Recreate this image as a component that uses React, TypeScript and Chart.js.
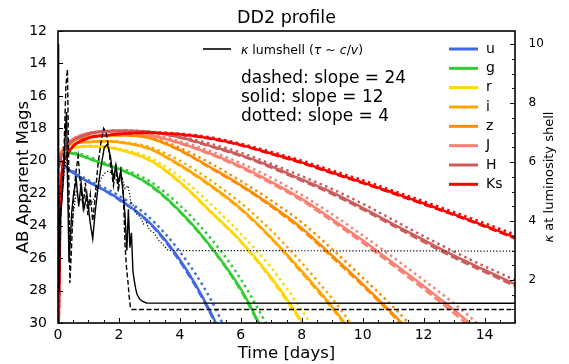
import React, { useEffect, useRef } from 'react';
import { Chart, registerables } from 'chart.js';

Chart.register(...registerables);

// ---------- data ----------
const T = [0.02, 0.1, 0.25, 0.5, 1, 1.5, 2, 3, 4, 5, 6, 7, 8, 9, 10, 11, 12, 13, 14, 15];

const U_SOLID = [19.9, 20.0, 20.35, 20.75, 21.3, 21.8, 22.35, 23.8, 26.1, 29.3, 33.5, null, null, null, null, null, null, null, null, null];
const U_DASHED = [19.9, 20.0, 20.35, 20.75, 21.3, 21.8, 22.4, 23.85, 26.2, 29.4, 33.6, null, null, null, null, null, null, null, null, null];
const U_DOTTED = [19.9, 20.0, 20.3, 20.65, 21.2, 21.65, 22.15, 23.5, 25.6, 28.5, 32.5, null, null, null, null, null, null, null, null, null];

const G_SOLID = [19.8, 19.6, 19.5, 19.55, 19.85, 20.2, 20.5, 21.45, 23.1, 25.25, 27.9, 31.5, null, null, null, null, null, null, null, null];
const G_DASHED = [19.8, 19.6, 19.5, 19.55, 19.85, 20.2, 20.5, 21.5, 23.15, 25.3, 28.0, 31.6, null, null, null, null, null, null, null, null];
const G_DOTTED = [19.8, 19.6, 19.5, 19.5, 19.75, 20.1, 20.4, 21.25, 22.75, 24.75, 27.3, 30.6, null, null, null, null, null, null, null, null];

const R_SOLID = [19.9, 19.6, 19.35, 19.2, 19.1, 19.15, 19.3, 19.95, 21.3, 23.1, 24.95, 27.2, 29.9, 33.0, null, null, null, null, null, null];
const R_DASHED = [19.9, 19.6, 19.35, 19.2, 19.1, 19.15, 19.3, 19.97, 21.35, 23.15, 25.0, 27.3, 30.0, 33.1, null, null, null, null, null, null];
const R_DOTTED = [19.9, 19.6, 19.35, 19.2, 19.08, 19.1, 19.25, 19.8, 21.0, 22.65, 24.5, 26.6, 29.2, 32.2, null, null, null, null, null, null];

const I_SOLID = [19.9, 19.5, 19.15, 18.95, 18.85, 18.8, 18.85, 19.25, 20.25, 21.5, 22.95, 24.75, 26.8, 29.0, 31.5, null, null, null, null, null];
const I_DASHED = [19.9, 19.5, 19.15, 18.95, 18.85, 18.8, 18.85, 19.27, 20.3, 21.55, 23.0, 24.8, 26.9, 29.1, 31.6, null, null, null, null, null];
const I_DOTTED = [19.9, 19.5, 19.15, 18.95, 18.83, 18.78, 18.82, 19.15, 20.0, 21.2, 22.6, 24.3, 26.3, 28.5, 31.0, null, null, null, null, null];

const Z_SOLID = [20.0, 19.5, 19.05, 18.75, 18.52, 18.45, 18.42, 18.6, 19.35, 20.4, 21.5, 22.75, 24.15, 25.85, 27.6, 29.45, 31.4, null, null, null];
const Z_DASHED = [20.0, 19.5, 19.05, 18.75, 18.52, 18.45, 18.42, 18.6, 19.37, 20.45, 21.55, 22.82, 24.25, 25.95, 27.7, 29.55, 31.5, null, null, null];
const Z_DOTTED = [20.0, 19.5, 19.05, 18.75, 18.5, 18.43, 18.4, 18.55, 19.2, 20.15, 21.25, 22.45, 23.8, 25.45, 27.2, 29.0, 31.0, null, null, null];

const J_SOLID = [20.1, 19.6, 19.05, 18.65, 18.3, 18.2, 18.2, 18.42, 18.9, 19.55, 20.35, 21.3, 22.35, 23.6, 24.9, 26.3, 27.72, 29.2, 30.8, null];
const J_DASHED = [20.1, 19.6, 19.05, 18.65, 18.3, 18.2, 18.2, 18.43, 18.93, 19.6, 20.42, 21.4, 22.45, 23.72, 25.05, 26.45, 27.9, 29.4, 31.0, null];
const J_DOTTED = [20.1, 19.6, 19.05, 18.65, 18.28, 18.18, 18.17, 18.35, 18.8, 19.4, 20.15, 21.05, 22.1, 23.3, 24.6, 25.95, 27.35, 28.8, 30.4, null];

const H_SOLID = [20.4, 19.8, 19.2, 18.75, 18.35, 18.2, 18.15, 18.22, 18.55, 19.08, 19.65, 20.35, 21.15, 21.95, 22.9, 23.9, 24.88, 25.85, 26.73, 27.6];
const H_DASHED = [20.4, 19.8, 19.2, 18.75, 18.35, 18.2, 18.15, 18.23, 18.57, 19.12, 19.7, 20.42, 21.23, 22.05, 23.0, 24.0, 25.0, 25.97, 26.85, 27.72];
const H_DOTTED = [20.4, 19.8, 19.2, 18.75, 18.33, 18.18, 18.13, 18.2, 18.5, 18.95, 19.5, 20.2, 20.95, 21.75, 22.65, 23.65, 24.65, 25.6, 26.5, 27.35];

const KS_SOLID = [30.5, 21.4, 19.8, 19.1, 18.6, 18.45, 18.35, 18.27, 18.37, 18.62, 19.02, 19.55, 20.1, 20.72, 21.33, 21.97, 22.63, 23.3, 24.0, 24.72];
const KS_DASHED = [30.5, 21.4, 19.8, 19.1, 18.6, 18.45, 18.35, 18.27, 18.38, 18.64, 19.05, 19.58, 20.14, 20.77, 21.38, 22.02, 22.68, 23.35, 24.05, 24.78];
const KS_DOTTED = [30.5, 21.4, 19.8, 19.1, 18.58, 18.43, 18.33, 18.25, 18.33, 18.55, 18.95, 19.45, 20.0, 20.6, 21.2, 21.85, 22.5, 23.17, 23.85, 24.55];

const BAND_NAMES = ['u', 'g', 'r', 'i', 'z', 'J', 'H', 'Ks'];
const BAND_COLORS = ['#4169e1', '#32cd32', '#ffd700', '#ffa500', '#ff8c00', '#fa8072', '#cd5c5c', '#ff0000'];
const BAND_SOLID = [U_SOLID, G_SOLID, R_SOLID, I_SOLID, Z_SOLID, J_SOLID, H_SOLID, KS_SOLID];
const BAND_DASHED = [U_DASHED, G_DASHED, R_DASHED, I_DASHED, Z_DASHED, J_DASHED, H_DASHED, KS_DASHED];
const BAND_DOTTED = [U_DOTTED, G_DOTTED, R_DOTTED, I_DOTTED, Z_DOTTED, J_DOTTED, H_DOTTED, KS_DOTTED];

// kappa at luminosity shell (right axis)
const KAPPA_SOLID_T = [0, 0.02, 0.04, 0.07, 0.12, 0.18, 0.24, 0.28, 0.32, 0.36, 0.4, 0.45, 0.52, 0.6, 0.68, 0.76, 0.85, 0.95, 1.05, 1.14, 1.22, 1.32, 1.42, 1.52, 1.62, 1.72, 1.82, 1.9, 1.98, 2.06, 2.14, 2.2, 2.26, 2.31, 2.36, 2.41, 2.46, 2.5, 2.55, 2.6, 2.68, 2.78, 2.9, 15];
const KAPPA_SOLID = [10.0, 6.5, 1.7, 4.0, 4.6, 5.5, 7.0, 7.7, 5.0, 2.6, 3.3, 4.3, 5.0, 5.4, 4.5, 5.3, 4.4, 4.9, 4.0, 3.4, 4.3, 5.2, 5.9, 6.5, 6.6, 6.2, 5.4, 5.9, 5.3, 5.7, 4.9, 4.2, 3.0, 4.4, 3.1, 3.6, 2.3, 2.0, 1.7, 1.5, 1.35, 1.27, 1.22, 1.21];

const KAPPA_DASHED_T = [0, 0.02, 0.04, 0.08, 0.14, 0.2, 0.26, 0.31, 0.35, 0.39, 0.44, 0.5, 0.58, 0.66, 0.74, 0.82, 0.9, 0.98, 1.06, 1.14, 1.22, 1.3, 1.4, 1.5, 1.58, 1.66, 1.74, 1.82, 1.9, 1.98, 2.06, 2.14, 2.2, 2.25, 2.3, 2.34, 2.38, 2.42, 15];
const KAPPA_DASHED = [9.8, 5.0, 1.6, 4.2, 5.0, 6.5, 8.6, 9.15, 6.0, 1.9, 3.0, 4.5, 5.6, 6.2, 5.2, 4.5, 5.3, 4.2, 4.9, 4.0, 4.8, 5.8, 6.6, 7.15, 7.0, 6.5, 5.8, 5.2, 5.8, 5.0, 5.7, 5.1, 3.2, 2.4, 1.9, 1.4, 1.05, 1.0, 1.0];

const KAPPA_DOTTED_T = [0, 0.03, 0.08, 0.15, 0.22, 0.28, 0.34, 0.4, 0.5, 0.6, 0.75, 0.9, 1.05, 1.2, 1.35, 1.5, 1.65, 1.8, 1.95, 2.1, 2.2, 2.3, 2.4, 2.5, 2.6, 2.7, 2.8, 2.9, 3.0, 3.15, 3.3, 3.45, 3.62, 15];
const KAPPA_DOTTED = [9.9, 3.0, 4.4, 5.0, 5.8, 6.3, 4.5, 3.2, 4.2, 5.0, 4.7, 4.9, 4.5, 4.8, 5.3, 5.6, 5.7, 5.6, 5.3, 5.5, 5.1, 5.2, 4.6, 4.5, 4.2, 4.15, 3.9, 3.95, 3.7, 3.6, 3.35, 3.2, 3.0, 2.98];

const X_TICKS = [0, 2, 4, 6, 8, 10, 12, 14];
const Y_TICKS = [12, 14, 16, 18, 20, 22, 24, 26, 28, 30];
const K_TICKS = [2, 4, 6, 8, 10];
const SLOPE_TEXT = ['dashed: slope = 24', 'solid: slope = 12', 'dotted: slope = 4'];

// ---------- drawing helpers ----------
const FONT = '"DejaVu Sans", sans-serif';

function seg(ctx: CanvasRenderingContext2D, parts: [string, boolean][], x: number, y: number, size: number, center = false) {
  const fonts = parts.map(([, it]) => `${it ? 'italic ' : ''}${size}px ${FONT}`);
  let total = 0;
  parts.forEach(([t], i) => { ctx.font = fonts[i]; total += ctx.measureText(t).width; });
  let cx = center ? x - total / 2 : x;
  ctx.textAlign = 'left';
  parts.forEach(([t], i) => { ctx.font = fonts[i]; ctx.fillText(t, cx, y); cx += ctx.measureText(t).width; });
}

function ln(ctx: CanvasRenderingContext2D, x1: number, y1: number, x2: number, y2: number) {
  ctx.beginPath(); ctx.moveTo(x1, y1); ctx.lineTo(x2, y2); ctx.stroke();
}

const decor = {
  id: 'decor',
  afterDraw(chart: any) {
    const { ctx, chartArea: a, scales } = chart;
    const sx = scales.x, sy = scales.y, sk = scales.k;
    ctx.save();
    ctx.strokeStyle = '#000';
    ctx.fillStyle = '#000';
    ctx.lineWidth = 1;
    // inward ticks
    for (let i = 0; i <= 30; i++) {
      const v = i * 0.5;
      const px = Math.round(sx.getPixelForValue(v)) + 0.5;
      ln(ctx, px, a.bottom, px, a.bottom - (X_TICKS.includes(v) ? 5 : 3));
    }
    for (const v of Y_TICKS) {
      const py = Math.round(sy.getPixelForValue(v)) + 0.5;
      ln(ctx, a.left, py, a.left + 5, py);
    }
    for (let i = 2; i <= 20; i++) {
      const v = i * 0.5;
      const py = Math.round(sk.getPixelForValue(v)) + 0.5;
      ln(ctx, a.right, py, a.right - (K_TICKS.includes(v) ? 5 : 3), py);
    }
    // frame
    ctx.lineWidth = 1.6;
    ctx.strokeRect(a.left, a.top, a.right - a.left, a.bottom - a.top);

    // title
    ctx.textBaseline = 'alphabetic';
    ctx.textAlign = 'center';
    ctx.font = `17.5px ${FONT}`;
    ctx.fillText('DD2 profile', (a.left + a.right) / 2, 23);

    // right axis label
    ctx.save();
    ctx.translate(549.5, (a.top + a.bottom) / 2);
    ctx.rotate(-Math.PI / 2);
    ctx.textBaseline = 'middle';
    seg(ctx, [['κ', true], [' at luminosity shell', false]], 0, 0, 13, true);
    ctx.restore();

    // kappa legend
    ctx.lineWidth = 1.6;
    ln(ctx, 203, 49, 231, 49);
    ctx.textBaseline = 'alphabetic';
    seg(ctx, [['κ', true], [' lumshell (', false], ['τ', true], [' ~ ', false], ['c', true], ['/', false], ['v', true], [')', false]], 241, 53.5, 12.5);

    // slope texts
    ctx.font = `17px ${FONT}`;
    ctx.textAlign = 'left';
    SLOPE_TEXT.forEach((t, i) => ctx.fillText(t, 241, 82.5 + i * 19));

    // band legend
    ctx.lineWidth = 3;
    ctx.textBaseline = 'middle';
    ctx.font = `14px ${FONT}`;
    BAND_NAMES.forEach((n, i) => {
      const yy = 49 + i * 19.33;
      ctx.strokeStyle = BAND_COLORS[i];
      ln(ctx, 449, yy, 478, yy);
      ctx.fillText(n, 486, yy);
    });
    ctx.restore();
  },
};

export default function App() {
  const ref = useRef<HTMLCanvasElement>(null);
  useEffect(() => {
    document.body.style.margin = '0';
    Chart.defaults.font.family = FONT;
    Chart.defaults.color = '#000';

    const datasets: any[] = [];
    const styles: [any[][], number[]][] = [
      [BAND_SOLID, []],
      [BAND_DASHED, [8, 3.5]],
      [BAND_DOTTED, [2.5, 3.5]],
    ];
    BAND_NAMES.forEach((name, b) => {
      styles.forEach(([arrs, dash]) => {
        datasets.push({
          label: name,
          data: T.map((t, i) => ({ x: t, y: arrs[b][i] })),
          borderColor: BAND_COLORS[b],
          borderWidth: 2.5,
          borderDash: dash,
          borderCapStyle: 'butt',
          pointRadius: 0,
          cubicInterpolationMode: 'monotone',
          spanGaps: false,
          xAxisID: 'x',
          yAxisID: 'y',
          clip: 0,
          order: 10 - b,
        });
      });
    });
    const blacks: [number[], number[], number[], number][] = [
      [KAPPA_SOLID_T, KAPPA_SOLID, [], 1.4],
      [KAPPA_DASHED_T, KAPPA_DASHED, [5, 2.5], 1.4],
      [KAPPA_DOTTED_T, KAPPA_DOTTED, [1.2, 2], 1.2],
    ];
    blacks.forEach(([ts, vs, dash, w]) => {
      datasets.push({
        label: 'kappa',
        data: ts.map((t, i) => ({ x: t, y: vs[i] })),
        borderColor: '#000',
        borderWidth: w,
        borderDash: dash,
        pointRadius: 0,
        tension: 0,
        xAxisID: 'x',
        yAxisID: 'k',
        clip: 0,
        order: 0,
      });
    });

    const chart = new Chart(ref.current!, {
      type: 'line',
      data: { datasets },
      options: {
        animation: false,
        responsive: false,
        devicePixelRatio: 1,
        layout: { padding: { top: 31, left: 0, right: 0, bottom: 0 } },
        plugins: { legend: { display: false }, tooltip: { enabled: false }, title: { display: false } },
        scales: {
          x: {
            type: 'linear',
            position: 'bottom',
            min: 0,
            max: 15,
            afterBuildTicks: (s: any) => { s.ticks = X_TICKS.map((v) => ({ value: v })); },
            afterFit: (s: any) => { s.height = 41; },
            grid: { display: false },
            border: { display: false },
            ticks: { color: '#000', font: { size: 14 }, padding: -4, maxRotation: 0, autoSkip: false },
            title: { display: true, text: 'Time [days]', color: '#000', font: { size: 16.5 }, padding: { top: 0, bottom: 0 } },
          },
          y: {
            type: 'linear',
            position: 'left',
            reverse: true,
            min: 12,
            max: 30,
            afterBuildTicks: (s: any) => { s.ticks = Y_TICKS.map((v) => ({ value: v })); },
            afterFit: (s: any) => { s.width = 58; },
            grid: { display: false },
            border: { display: false },
            ticks: { color: '#000', font: { size: 14 }, padding: 3, autoSkip: false },
            title: { display: true, text: 'AB Apparent Mags', color: '#000', font: { size: 16.5 }, padding: { top: 14, bottom: 0 } },
          },
          k: {
            type: 'linear',
            position: 'right',
            min: 0.54,
            max: 10.45,
            afterBuildTicks: (s: any) => { s.ticks = K_TICKS.map((v) => ({ value: v })); },
            afterFit: (s: any) => { s.width = 54; },
            grid: { display: false },
            border: { display: false },
            ticks: { color: '#000', font: { size: 12 }, padding: 5.5, autoSkip: false },
          },
        },
      },
      plugins: [decor],
    } as any);
    return () => chart.destroy();
  }, []);
  return (
    <div style={{ width: 569, height: 364 }}>
      <canvas ref={ref} width={569} height={364} style={{ display: 'block' }} />
    </div>
  );
}
